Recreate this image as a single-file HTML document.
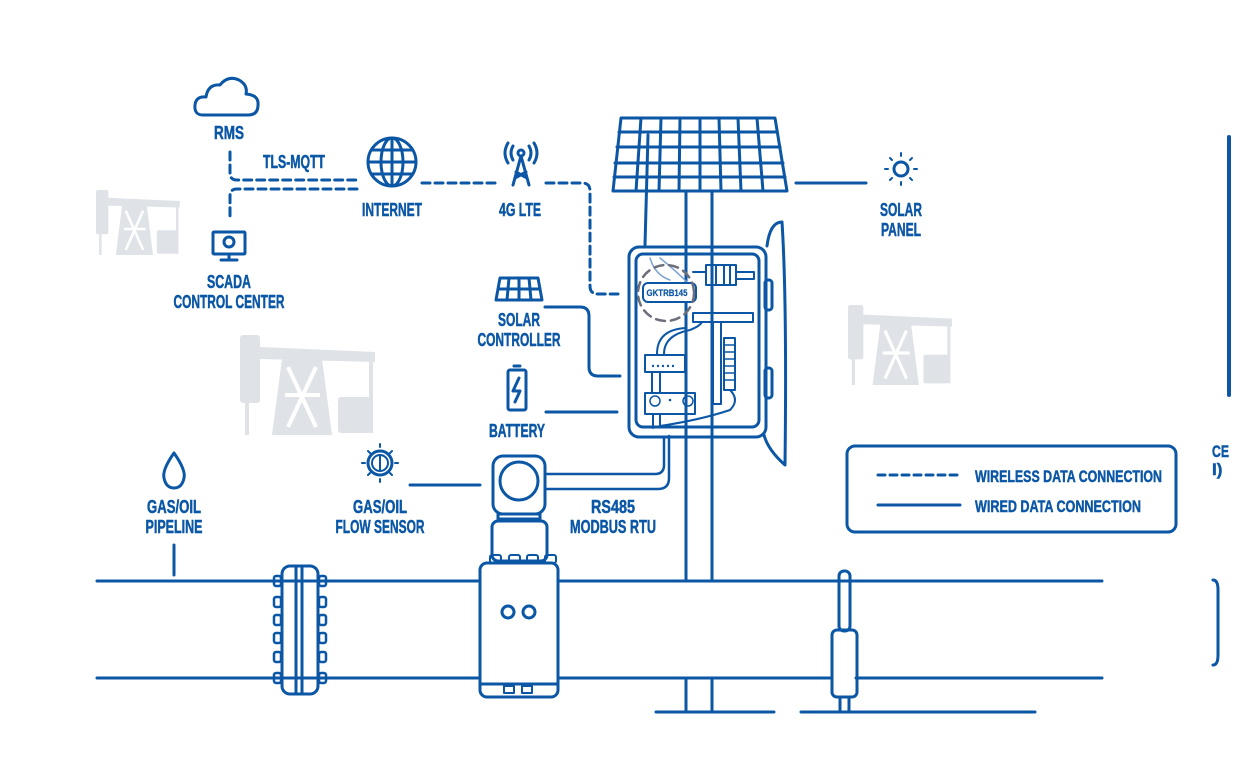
<!DOCTYPE html>
<html><head><meta charset="utf-8"><style>
body{margin:0;background:#fff;width:1248px;height:780px;overflow:hidden}
svg{display:block}
text{font-family:"Liberation Sans Narrow","Liberation Sans",sans-serif;font-weight:bold;fill:#0b57a6;stroke:#0b57a6;stroke-width:0.5;font-size:18px;text-anchor:middle}
</style></head><body>
<svg width="1248" height="780" viewBox="0 0 1248 780" xmlns="http://www.w3.org/2000/svg">
<defs>
<g id="pj">
<rect x="0" y="0" width="20" height="68" rx="3" fill="#dfe3e8"/>
<path d="M20 12 L135 17 L135 27 L20 24Z" fill="#dfe3e8"/>
<rect x="129" y="20" width="4" height="78" fill="#dfe3e8"/>
<rect x="98" y="62" width="32" height="36" rx="3" fill="#dfe3e8"/>
<path d="M42 24 L82 24 L92 100 L32 100Z" fill="#dfe3e8"/>
<path d="M48 32 L76 92 M76 32 L48 92 M45 60 H80" stroke="#fff" stroke-width="4"/>
<rect x="5" y="65" width="4" height="35" fill="#dfe3e8"/>
</g>
</defs>
<use href="#pj" transform="translate(96,190) scale(0.62,0.65)"/>
<use href="#pj" transform="translate(240,335)"/>
<use href="#pj" transform="translate(848,305) scale(0.77,0.8)"/>
<g fill="none" stroke="#0b57a6" stroke-width="3" stroke-linecap="round" stroke-linejoin="round">
<path d="M203 115 Q194 115 195 105 Q196 96 206 97 Q208 84 220 85 Q228 75 239 80 Q248 85 246 94 Q259 95 258 105 Q258 115 248 115 Z"/>
<g stroke-dasharray="8 5">
<path d="M230 152 V173 Q230 180 237 180 H357"/>
<path d="M357 189 H237 Q230 189 230 196 V217"/>
<path d="M422 183 H500"/>
<path d="M546 183 H582 Q590 183 590 191 V286 Q590 294 598 294 H618"/>
</g>
<circle cx="392" cy="162" r="24"/><ellipse cx="392" cy="162" rx="11" ry="24"/>
<path d="M368 162H416M372 150H412M372 174H412M392 138V186"/>
<path d="M521 156 L513 185 M521 156 L529 185 M516 172 L527 178 M526 172 L515 178"/>
<circle cx="521" cy="153" r="3"/>
<path d="M513 146 Q509 153 513 160 M529 146 Q533 153 529 160 M508 143 Q502 153 508 163 M534 143 Q540 153 534 163"/>
<rect x="213" y="232" width="32" height="22" rx="1"/><path d="M229 254V259M221 260H237"/>
<circle cx="229" cy="242" r="5"/>
<path d="M500 278 H538 L542 300 H496 Z M509 278 L507 300 M519 278 V300 M529 278 L531 300 M498 289 H540"/>
<path d="M545 307 H580 Q589 307 589 316 V367 Q589 376 598 376 H620"/>
<rect x="508" y="370" width="18" height="40" rx="2"/><path d="M514 366H520"/><path d="M519 378 L513 391 H520 L515 402"/>
<path d="M546 412 H617"/>
<path d="M621 118 H775 L787 191 H613 Z"/>
<path d="M619 132H777M617 147H780M615 163H783M614 177H785"/>
<path d="M641 118L636 191M661 118L659 191M680 118L679 191M700 118V191M719 118L721 191M738 118L741 191M757 118L763 191"/>
<path d="M686 191V580M712 191V580M686 680V712M712 680V712"/>
<path d="M648 135 L645 245"/>
<path d="M767 246 Q770 222 782 222 Q787 300 785 465 Q768 450 764 435"/>
<rect x="765" y="280" width="7" height="30" rx="3"/><rect x="765" y="368" width="7" height="30" rx="3"/>
<rect x="629" y="247" width="137" height="190" rx="10"/>
<rect x="636" y="254" width="123" height="173" rx="7"/>
<path d="M650 258 Q655 275 670 280 M660 258 Q675 270 690 285" stroke="#7da4d2" stroke-width="1.5"/>
<rect x="643" y="283" width="53" height="19" rx="5" stroke-width="2" fill="#fff"/>
<rect x="706" y="265" width="30" height="20" stroke-width="2"/><path d="M693 272H706M736 272H754V279H736M716 265V285M724 265V285M730 265V285" stroke-width="2"/>
<rect x="693" y="313" width="60" height="9" stroke-width="2"/>
<rect x="713" y="322" width="8" height="82" stroke-width="2"/>
<rect x="724" y="338" width="11" height="52" stroke-width="2"/>
<path d="M724 345H735M724 352H735M724 359H735M724 366H735M724 373H735M724 380H735" stroke-width="1.5"/>
<rect x="645" y="355" width="40" height="17" stroke-width="2"/>
<rect x="645" y="393" width="50" height="21" stroke-width="2"/>
<path d="M652 372V393M660 372V393M664 354 Q664 335 690 330 Q700 326 702 322M657 354 Q657 330 685 328" stroke-width="2"/>
<path d="M653 414V428M660 414 V426 Q700 420 730 410 Q740 400 730 390" stroke-width="2"/>
<circle cx="666" cy="293" r="28" stroke="#6c6f7a" stroke-dasharray="9 6" stroke-width="2.5"/>
<path d="M796 183H866"/>
<circle cx="901" cy="169" r="7"/>
<path d="M901 153V156M901 182V185M885 169H888M914 169H917M890 158L892 160M910 178L912 180M912 158L910 160M890 180L892 178" stroke-width="2"/>
<path d="M174 453 Q162 470 164 478 Q166 488 174 488 Q182 488 184 478 Q186 470 174 453Z"/>
<path d="M174 545V575"/>
<circle cx="380" cy="463" r="12"/><circle cx="380" cy="463" r="8" stroke-width="2"/><path d="M380 456V470" stroke-width="2"/>
<path d="M380 444V447M380 479V482M362 463H365M395 463H398M368 451L370 453M392 451L390 453M368 475L370 473M392 475L390 473" stroke-width="2"/>
<path d="M410 485H480"/>
<rect x="493" y="456" width="52" height="58" rx="10"/><circle cx="519" cy="481" r="19"/>
<rect x="498" y="514" width="42" height="5"/>
<rect x="492" y="521" width="55" height="40" rx="6"/>
<rect x="490" y="555" width="11" height="8" rx="2" stroke-width="2"/><rect x="509" y="555" width="11" height="8" rx="2" stroke-width="2"/><rect x="527" y="555" width="11" height="8" rx="2" stroke-width="2"/><rect x="545" y="555" width="11" height="8" rx="2" stroke-width="2"/>
<rect x="480" y="563" width="78" height="134" rx="7"/>
<path d="M480 684H558"/>
<circle cx="508" cy="612" r="6"/><circle cx="529" cy="612" r="6"/>
<rect x="504" y="686" width="10" height="7" stroke-width="2"/><rect x="522" y="686" width="10" height="7" stroke-width="2"/>
<path d="M546 474 H655 Q664 474 664 465 V438 M546 489 H658 Q669 489 669 478 V436" stroke-width="2.5"/>
<path d="M97 581H480M558 581H1102M97 678H480M558 678H832M856 678H1102"/>
<rect x="282" y="566" width="36" height="128" rx="8"/><path d="M296 566V694M302 566V694"/>
<g stroke-width="2.5"><rect x="274" y="576" width="7" height="10" rx="2"/><rect x="274" y="597" width="7" height="10" rx="2"/><rect x="274" y="615" width="7" height="10" rx="2"/><rect x="274" y="633" width="7" height="10" rx="2"/><rect x="274" y="652" width="7" height="10" rx="2"/><rect x="274" y="673" width="7" height="10" rx="2"/>
<rect x="319" y="576" width="7" height="10" rx="2"/><rect x="319" y="597" width="7" height="10" rx="2"/><rect x="319" y="615" width="7" height="10" rx="2"/><rect x="319" y="633" width="7" height="10" rx="2"/><rect x="319" y="652" width="7" height="10" rx="2"/><rect x="319" y="673" width="7" height="10" rx="2"/></g>
<rect x="839" y="571" width="11" height="60" rx="5"/>
<rect x="832" y="630" width="25" height="67" rx="5"/>
<path d="M840 697V712M849 697V712"/>
<path d="M656 712H774M801 712H1035"/>
<rect x="847" y="446" width="329" height="86" rx="8"/>
<path d="M878 475H960" stroke-dasharray="7 5"/><path d="M878 505H960"/>
<path d="M1229 137V395" stroke-width="4"/>
<path d="M1213 580 Q1218 580 1218 590 V655 Q1218 665 1213 665"/>
</g>
<g fill="#0b57a6"><circle cx="655" cy="401" r="5" fill="none" stroke="#0b57a6" stroke-width="1.5"/><circle cx="688" cy="401" r="5" fill="none" stroke="#0b57a6" stroke-width="1.5"/><circle cx="670" cy="400" r="1.3"/>
<circle cx="653" cy="366" r="1.2"/><circle cx="658" cy="366" r="1.2"/><circle cx="663" cy="366" r="1.2"/><circle cx="668" cy="366" r="1.2"/><circle cx="673" cy="366" r="1.2"/></g>
<text x="667" y="296" style="font-size:9px;stroke-width:0.2" textLength="41" lengthAdjust="spacingAndGlyphs">GKTRB145</text>
<text x="229" y="139" textLength="30" lengthAdjust="spacingAndGlyphs">RMS</text>
<text x="294" y="168" textLength="62" lengthAdjust="spacingAndGlyphs">TLS-MQTT</text>
<text x="392" y="216" textLength="60" lengthAdjust="spacingAndGlyphs">INTERNET</text>
<text x="520" y="216" textLength="42" lengthAdjust="spacingAndGlyphs">4G LTE</text>
<text x="229" y="288" textLength="44" lengthAdjust="spacingAndGlyphs">SCADA</text>
<text x="229" y="308" textLength="111" lengthAdjust="spacingAndGlyphs">CONTROL CENTER</text>
<text x="519" y="326" textLength="42" lengthAdjust="spacingAndGlyphs">SOLAR</text>
<text x="519" y="346" textLength="83" lengthAdjust="spacingAndGlyphs">CONTROLLER</text>
<text x="517" y="437" textLength="56" lengthAdjust="spacingAndGlyphs">BATTERY</text>
<text x="901" y="216" textLength="42" lengthAdjust="spacingAndGlyphs">SOLAR</text>
<text x="901" y="236" textLength="40" lengthAdjust="spacingAndGlyphs">PANEL</text>
<text x="174" y="513" textLength="54" lengthAdjust="spacingAndGlyphs">GAS/OIL</text>
<text x="174" y="533" textLength="57" lengthAdjust="spacingAndGlyphs">PIPELINE</text>
<text x="380" y="513" textLength="54" lengthAdjust="spacingAndGlyphs">GAS/OIL</text>
<text x="380" y="533" textLength="89" lengthAdjust="spacingAndGlyphs">FLOW SENSOR</text>
<text x="613" y="513" textLength="44" lengthAdjust="spacingAndGlyphs">RS485</text>
<text x="613" y="533" textLength="86" lengthAdjust="spacingAndGlyphs">MODBUS RTU</text>
<text x="975" y="482" style="text-anchor:start;font-size:17px" textLength="187" lengthAdjust="spacingAndGlyphs">WIRELESS DATA CONNECTION</text>
<text x="975" y="512" style="text-anchor:start;font-size:17px" textLength="166" lengthAdjust="spacingAndGlyphs">WIRED DATA CONNECTION</text>
<text x="1212" y="457" style="text-anchor:start;font-size:17px" textLength="17" lengthAdjust="spacingAndGlyphs">CE</text>
<text x="1212" y="475" style="text-anchor:start;font-size:17px">I)</text>
</svg>
</body></html>
